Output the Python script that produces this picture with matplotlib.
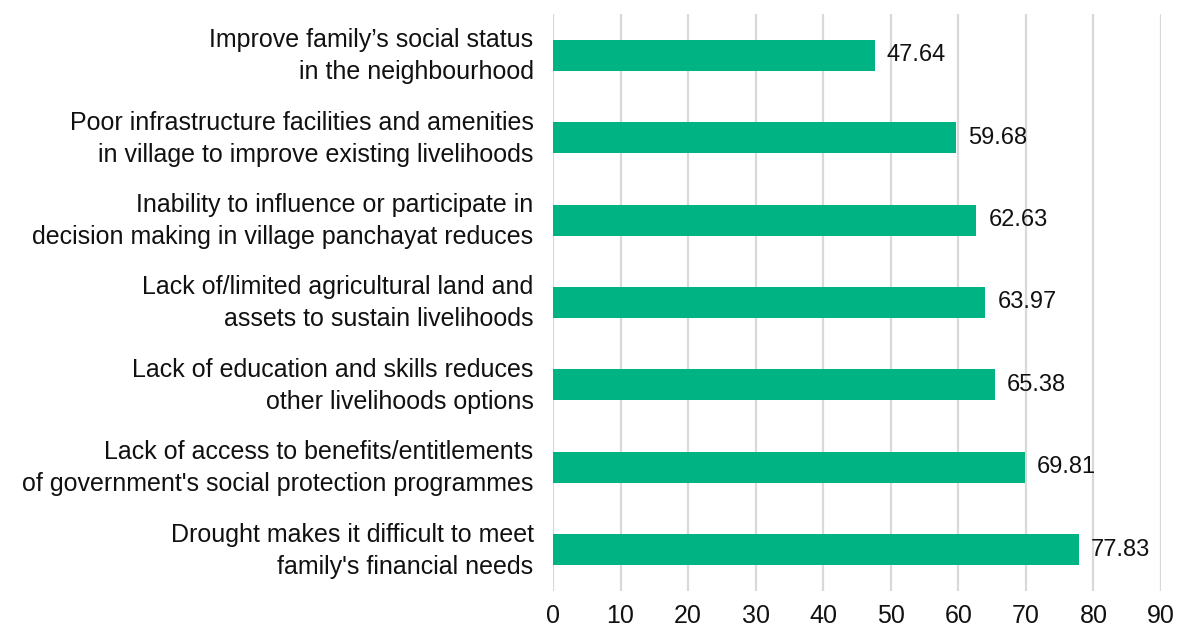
import matplotlib.pyplot as plt
from matplotlib.transforms import ScaledTranslation

# top-to-bottom order as drawn
reasons = [
    "Improve family\u2019s social status\nin the neighbourhood",
    "Poor infrastructure facilities and amenities\nin village to improve existing livelihoods",
    "Inability to influence or participate in\ndecision making in village panchayat reduces",
    "Lack of/limited agricultural land and\nassets to sustain livelihoods",
    "Lack of education and skills reduces\nother livelihoods options",
    "Lack of access to benefits/entitlements\nof government's social protection programmes",
    "Drought makes it difficult to meet\nfamily's financial needs",
]
shares = [47.64, 59.68, 62.63, 63.97, 65.38, 69.81, 77.83]
xticks = list(range(0, 100, 10))

plt.rcParams['font.family'] = ['Liberation Sans', 'DejaVu Sans']

fig = plt.figure(figsize=(11.78, 6.27), dpi=100)
ax = fig.add_axes([0.4694, 0.0574, 0.5162, 0.9203])

bar_color = '#00B383'
pos = list(range(len(reasons)))
ax.barh(pos, shares, height=0.375, color=bar_color, zorder=3)

for y, v in zip(pos, shares):
    ax.text(v + 1.8, y, f"{v:.2f}", va='center', ha='left', fontsize=17, color='#111111', zorder=4)

ax.set_ylim(len(reasons) - 0.5, -0.5)
ax.set_xlim(0, 90)
ax.set_xticks(xticks)
ax.set_yticks(pos)
ax.set_yticklabels(reasons, fontsize=18, color='#111111', linespacing=1.42)
ax.tick_params(axis='x', labelsize=18, colors='#111111', length=0, pad=9)
ax.tick_params(axis='y', length=0, pad=14)

# nudge the two-line category labels up a little
shift = ScaledTranslation(0, 4 / 72, fig.dpi_scale_trans)
for lbl in ax.get_yticklabels():
    lbl.set_transform(lbl.get_transform() + shift)

ax.grid(axis='x', color='#d9d9d9', linewidth=1.6, zorder=0)
for s in ax.spines.values():
    s.set_visible(False)

fig.savefig("out.png", dpi=100)
